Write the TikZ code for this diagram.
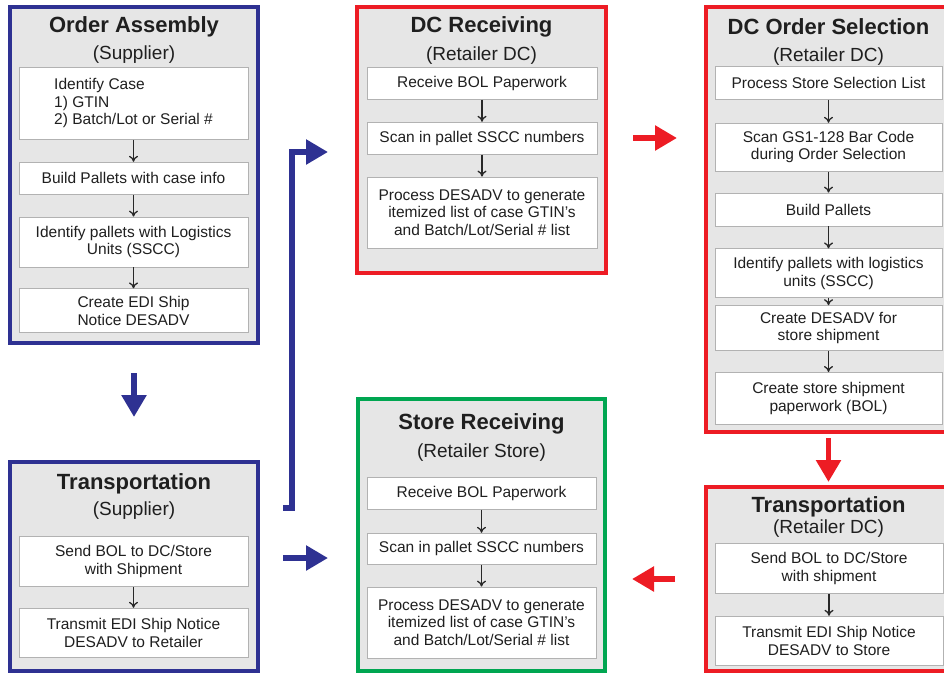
\documentclass[tikz,border=0pt]{standalone}
\usepackage{fontspec}
\setmainfont{Liberation Sans}
\usetikzlibrary{positioning, arrows.meta}
\definecolor{supblue}{RGB}{46,49,146}
\definecolor{dcred}{RGB}{237,28,36}
\definecolor{storegreen}{RGB}{0,166,81}
\definecolor{panelgray}{RGB}{230,230,230}
\definecolor{boxline}{RGB}{178,178,178}
\definecolor{arrowgray}{RGB}{40,40,40}

\begin{document}
\begin{tikzpicture}[x=1pt,y=-1pt,node distance=22pt,
    panel/.style={draw=#1, line width=4pt, fill=panelgray, inner sep=0pt},
    title/.style={anchor=base, font=\fontsize{22}{26}\selectfont\bfseries, text=black!88},
    sub/.style={anchor=base, font=\fontsize{19}{22}\selectfont, text=black!88},
    box/.style={draw=boxline, line width=0.8pt, fill=white, align=center, inner sep=2pt,
        minimum width=229pt, font=\fontsize{15.5}{17.5}\selectfont, text=black!88},
    flow/.style={-{To[length=6pt,width=9pt]}, draw=arrowgray, line width=1.3pt},
    fat/.style={-{Triangle[length=22pt,width=24pt]}, line width=5.5pt, draw=#1}]

    \useasboundingbox (0,0) rectangle (944,673);

    \node[panel=supblue, minimum width=248pt, minimum height=336pt] (asm) at (134,175) {};
    \node[panel=dcred, minimum width=249pt, minimum height=266pt] (dcrec) at (481.5,140) {};
    \node[panel=dcred, minimum width=245pt, minimum height=425pt] (dcsel) at (828.5,219.5) {};
    \node[panel=supblue, minimum width=248pt, minimum height=209pt] (suptr) at (134,566.5) {};
    \node[panel=storegreen, minimum width=247pt, minimum height=272pt] (strec) at (481.5,535) {};
    \node[panel=dcred, minimum width=245pt, minimum height=184pt] (dctr) at (828.5,579) {};

    \node[title] (asmT) at (134,32) {Order Assembly};
    \node[sub] (asmS) at (134,59) {(Supplier)};
    \node[title] (dcrecT) at (481.5,32) {DC Receiving};
    \node[sub] (dcrecS) at (481.5,60) {(Retailer DC)};
    \node[title] (dcselT) at (828.5,34) {DC Order Selection};
    \node[sub] (dcselS) at (828.5,61) {(Retailer DC)};
    \node[title] (suptrT) at (134,489) {Transportation};
    \node[sub] (suptrS) at (134,515) {(Supplier)};
    \node[title] (strecT) at (481.5,429) {Store Receiving};
    \node[sub] (strecS) at (481.5,457) {(Retailer Store)};
    \node[title] (dctrT) at (828.5,512) {Transportation};
    \node[sub] (dctrS) at (828.5,533) {(Retailer DC)};

    \node[box, align=left, minimum height=72pt, anchor=north] (asm1) at (133.5,67) {Identify Case\\1) GTIN\\2) Batch/Lot or Serial \#};
    \node[box, minimum height=32pt] (asm2) [below=of asm1] {Build Pallets with case info};
    \node[box, minimum height=50pt] (asm3) [below=of asm2] {Identify pallets with Logistics\\Units (SSCC)};
    \node[box, minimum height=44pt] (asm4) [below=21pt of asm3] {Create EDI Ship\\Notice DESADV};

    \node[box, minimum width=230pt, minimum height=32pt, anchor=north] (dcrec1) at (482,67) {Receive BOL Paperwork};
    \node[box, minimum width=230pt, minimum height=32pt] (dcrec2) [below=of dcrec1] {Scan in pallet SSCC numbers};
    \node[box, minimum width=230pt, minimum height=71pt] (dcrec3) [below=of dcrec2] {Process DESADV to generate\\itemized list of case GTIN's\\and Batch/Lot/Serial \# list};

    \node[box, minimum width=227pt, minimum height=33pt, anchor=north] (dcsel1) at (828.5,66) {Process Store Selection List};
    \node[box, minimum width=227pt, minimum height=48pt] (dcsel2) [below=23pt of dcsel1] {Scan GS1-128 Bar Code\\during Order Selection};
    \node[box, minimum width=227pt, minimum height=33pt] (dcsel3) [below=21pt of dcsel2] {Build Pallets};
    \node[box, minimum width=227pt, minimum height=49pt] (dcsel4) [below=of dcsel3] {Identify pallets with logistics\\units (SSCC)};
    \node[box, minimum width=227pt, minimum height=45pt] (dcsel5) [below=7pt of dcsel4] {Create DESADV for\\store shipment};
    \node[box, minimum width=227pt, minimum height=52pt] (dcsel6) [below=21pt of dcsel5] {Create store shipment\\paperwork (BOL)};

    \node[box, minimum height=50pt, anchor=north] (suptr1) at (133.5,536) {Send BOL to DC/Store\\with Shipment};
    \node[box, minimum height=49pt] (suptr2) [below=21pt of suptr1] {Transmit EDI Ship Notice\\DESADV to Retailer};

    \node[box, minimum height=32pt, anchor=north] (strec1) at (481.5,477) {Receive BOL Paperwork};
    \node[box, minimum height=31pt] (strec2) [below=23pt of strec1] {Scan in pallet SSCC numbers};
    \node[box, minimum height=71pt] (strec3) [below=of strec2] {Process DESADV to generate\\itemized list of case GTIN's\\and Batch/Lot/Serial \# list};

    \node[box, minimum width=228pt, minimum height=50pt, anchor=north] (dctr1) at (829,543) {Send BOL to DC/Store\\with shipment};
    \node[box, minimum width=228pt, minimum height=49pt] (dctr2) [below=of dctr1] {Transmit EDI Ship Notice\\DESADV to Store};

    \draw[flow] (asm1) -- (asm2);
    \draw[flow] (asm2) -- (asm3);
    \draw[flow] (asm3) -- (asm4);
    \draw[flow] (dcrec1) -- (dcrec2);
    \draw[flow] (dcrec2) -- (dcrec3);
    \draw[flow] (dcsel1) -- (dcsel2);
    \draw[flow] (dcsel2) -- (dcsel3);
    \draw[flow] (dcsel3) -- (dcsel4);
    \draw[flow] (dcsel4) -- (dcsel5);
    \draw[flow] (dcsel5) -- (dcsel6);
    \draw[flow] (suptr1) -- (suptr2);
    \draw[flow] (strec1) -- (strec2);
    \draw[flow] (strec2) -- (strec3);
    \draw[flow] (dctr1) -- (dctr2);

    \draw[fat=supblue, shorten <=28pt, shorten >=43pt] (asm) -- (suptr);
    \draw[fat=supblue, shorten <=23pt, shorten >=28pt] ([yshift=8.5pt]suptr.east) -- ([yshift=8.5pt]suptr.east -| strec.west);
    \draw[fat=supblue, shorten >=27pt] ([xshift=23pt,yshift=58.5pt]suptr.east) -- ++(9,0) |- ([yshift=-12pt]dcrec.west);
    \draw[fat=dcred, shorten <=25pt, shorten >=27pt] ([yshift=2pt]dcrec.east) -- ([yshift=2pt]dcrec.east -| dcsel.west);
    \draw[fat=dcred, shorten <=4pt, shorten >=3pt] (dcsel) -- (dctr);
    \draw[fat=dcred, shorten <=29pt, shorten >=25pt] (dctr.west) -- (dctr.west -| strec.east);
\end{tikzpicture}
\end{document}
